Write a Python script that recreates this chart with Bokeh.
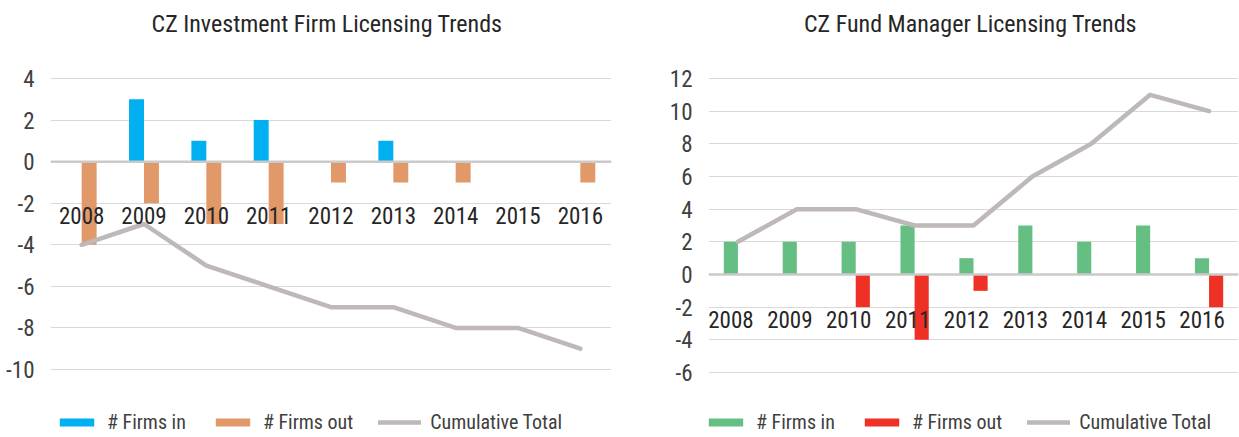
from bokeh.plotting import figure
from bokeh.models import (FactorRange, Range1d, FixedTicker, Span, Legend,
                          LegendItem, ColumnDataSource, Label)
from bokeh.transform import dodge
from bokeh.layouts import row
from bokeh.embed import file_html
from bokeh.resources import INLINE
from bokeh.core.properties import value

# ---- data ----
years = ["2008", "2009", "2010", "2011", "2012", "2013", "2014", "2015", "2016"]

inv_in = [0, 3, 1, 2, 0, 1, 0, 0, 0]
inv_out = [-4, -2, -3, -3, -1, -1, -1, 0, -1]
inv_cum = [-4, -3, -5, -6, -7, -7, -8, -8, -9]
inv_ticks = [-10, -8, -6, -4, -2, 0, 2, 4]

fm_in = [2, 2, 2, 3, 1, 3, 2, 3, 1]
fm_out = [0, 0, -2, -4, -1, 0, 0, 0, -2]
fm_cum = [2, 4, 4, 3, 3, 6, 8, 11, 10]
fm_ticks = [-6, -4, -2, 0, 2, 4, 6, 8, 10, 12]

legend_labels = ["# Firms in", "# Firms out", "Cumulative Total"]

FONT = "Roboto Condensed, Roboto"
H = 437


def make_chart(title, ins, outs, cum, ticks, top_tick, top_px, ppu,
               c_in, c_out, width, bl, br, lab_dx, lab_dy, leg_x, leg_y,
               title_dx):
    # frame spans the whole canvas height; top tick sits at top_px
    y_hi = top_tick + top_px / ppu
    y_lo = top_tick - (H - top_px) / ppu
    src = ColumnDataSource(dict(year=years, vin=ins, vout=outs, cum=cum))
    p = figure(width=width, height=H,
               x_range=FactorRange(*years), y_range=Range1d(y_lo, y_hi),
               output_backend="svg", toolbar_location=None,
               min_border_left=bl, min_border_right=br,
               min_border_top=0, min_border_bottom=0)
    p.title.visible = False
    p.outline_line_color = None
    p.background_fill_color = "white"
    p.border_fill_color = "white"

    p.xaxis.visible = False
    p.xgrid.visible = False
    p.ygrid.ticker = FixedTicker(ticks=ticks)
    p.ygrid.grid_line_color = "#D9D9D9"
    p.ygrid.grid_line_width = 1.2

    ax = p.yaxis[0]
    ax.ticker = FixedTicker(ticks=ticks)
    ax.major_label_overrides = {t: str(t) for t in ticks}
    ax.axis_line_color = None
    ax.major_tick_line_color = None
    ax.minor_tick_line_color = None
    ax.major_label_text_font = FONT
    ax.major_label_text_font_size = "23px"
    ax.major_label_text_color = "#404040"
    ax.major_label_standoff = 10

    r_in = p.vbar(x=dodge("year", -0.12, range=p.x_range), top="vin", width=0.24,
                  source=src, fill_color=c_in, line_color=None)
    r_out = p.vbar(x=dodge("year", 0.12, range=p.x_range), top="vout", width=0.24,
                   source=src, fill_color=c_out, line_color=None)
    p.add_layout(Span(location=0, dimension="width", line_color="#CACACA",
                      line_width=2.5))
    r_cum = p.line(x="year", y="cum", source=src, line_color="#BEB8B8",
                   line_width=4.5, line_join="round", line_cap="round")

    p.text(x="year", y=0, text="year", source=src, x_offset=lab_dx, y_offset=lab_dy,
           text_align="center", text_baseline="middle",
           text_font=value(FONT), text_font_size="23px", text_color="#262626")

    # chart title, centred over the categories, 23 px from the top
    p.add_layout(Label(x=len(years) / 2, y=y_hi, y_offset=-23, x_offset=title_dx,
                       text=title, text_align="center", text_baseline="middle",
                       text_font=FONT, text_font_size="24px",
                       text_color="#262626"))

    leg = Legend(items=[LegendItem(label=legend_labels[0], renderers=[r_in]),
                        LegendItem(label=legend_labels[1], renderers=[r_out]),
                        LegendItem(label=legend_labels[2], renderers=[r_cum])],
                 orientation="horizontal", location=(leg_x, leg_y),
                 glyph_width=43, glyph_height=10, label_standoff=9, spacing=25,
                 padding=0, margin=0, border_line_color=None,
                 background_fill_alpha=0, label_text_font=FONT,
                 label_text_font_size="20px", label_text_color="#404040")
    p.add_layout(leg, "center")
    return p


p1 = make_chart("CZ Investment Firm Licensing Trends", inv_in, inv_out, inv_cum,
                inv_ticks, 4, 78, 20.786, "#00B0F0", "#E2996A",
                620, 50, 9, 0, 54, 5, 3, -4)
p2 = make_chart("CZ Fund Manager Licensing Trends", fm_in, fm_out, fm_cum,
                fm_ticks, 12, 78, 16.333, "#65BF83", "#EE3124",
                619, 88, 1, -7, 45, -4, 3, -3)

layout = row(p1, p2, spacing=0)
open("out.html", "w").write(file_html(layout, INLINE))
